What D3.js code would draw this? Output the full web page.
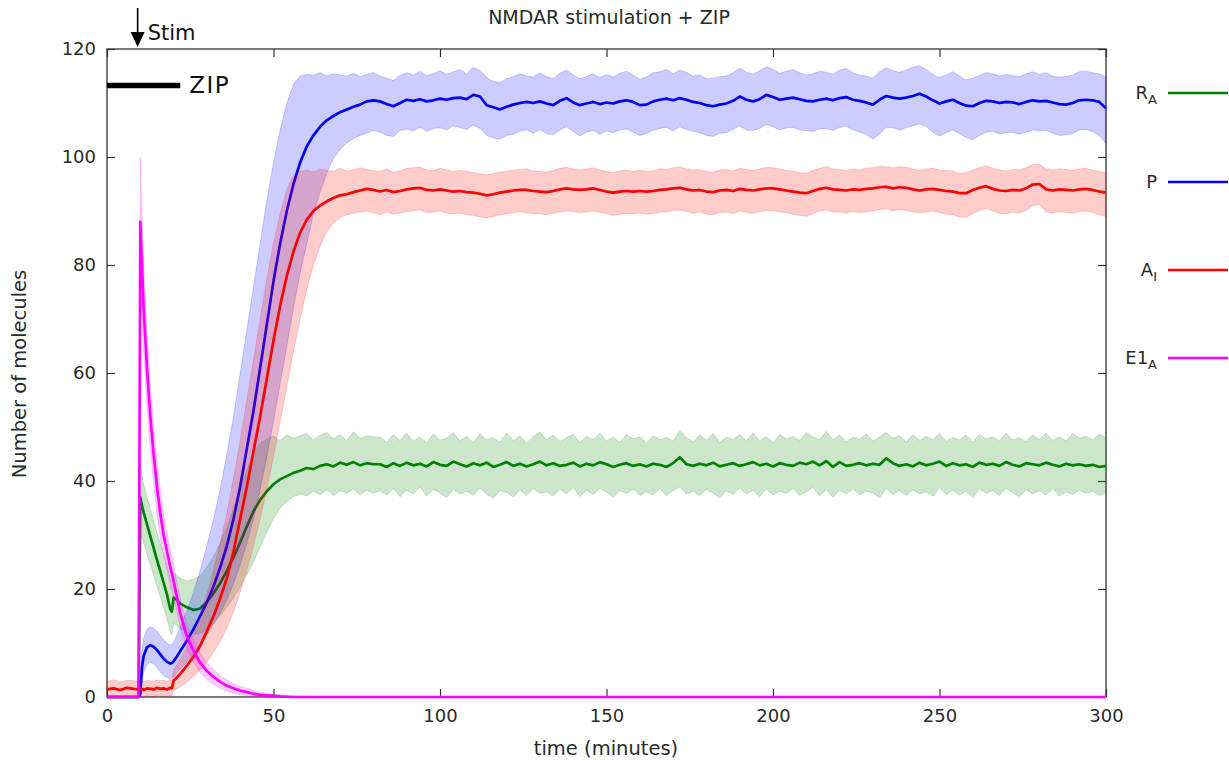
<!DOCTYPE html>
<html><head><meta charset="utf-8">
<script src="https://cdn.jsdelivr.net/npm/d3@7"></script>
<style>
html,body{margin:0;padding:0;background:#fff;}
svg{display:block;font-family:"DejaVu Sans",sans-serif;}
</style></head><body>
<svg id="chart" width="1229" height="761"></svg>
<script>
// ---------------- DATA ----------------
const time = [
0,2,4,6,8,9.5,10,10.5,11,12,
13,14,15,16,17,18,19,19.5,20,21,
22,24,26,28,30,32,34,36,38,40,
42,44,46,48,50,52,54,56,58,60,
62,64,66,68,70,72,74,76,78,80,
82,84,86,88,90,92,94,96,98,100,
102,104,106,108,110,112,114,116,118,120,
122,124,126,128,130,132,134,136,138,140,
142,144,146,148,150,152,154,156,158,160,
162,164,166,168,170,172,174,176,178,180,
182,184,186,188,190,192,194,196,198,200,
202,204,206,208,210,212,214,216,218,220,
222,224,226,228,230,232,234,236,238,240,
242,244,246,248,250,252,254,256,258,260,
262,264,266,268,270,272,274,276,278,280,
282,284,286,288,290,292,294,296,298,300];

// R_A (green)
const raMean = [
0,0,0,0,0,0,37,35.5,34.2,32,
29.8,27.6,25.4,23.3,21.2,19,16.3,15.8,18.4,18.0,
17.3,16.6,16.1,16.4,17.6,19.2,21.1,23.4,25.9,28.6,
31.6,34.4,36.5,38.1,39.4,40.3,40.9,41.5,41.9,42.4,
42.2,42.8,43.1,42.7,43.4,43.0,43.5,42.9,43.3,43.1,
43.1,42.6,43.3,42.8,43.4,42.9,43.2,42.7,43.5,43.0,
42.8,43.6,43.1,42.7,43.3,42.9,43.4,42.6,43.0,43.5,
42.8,43.2,42.7,43.1,43.6,42.9,43.3,42.8,43.0,43.4,
42.7,43.2,42.9,43.5,43.1,42.6,43.0,43.3,42.8,43.1,
42.7,43.2,43.0,42.6,43.3,44.4,43.1,42.8,43.2,42.9,
43.4,42.7,43.0,43.3,42.8,43.1,43.5,42.9,43.2,42.7,
43.3,43.0,42.8,43.4,43.1,43.6,42.9,43.7,42.6,43.5,
42.8,43.0,43.3,42.9,43.2,43.0,44.2,43.3,42.8,43.1,
42.7,43.4,42.9,43.2,43.6,42.8,43.3,42.9,43.1,42.6,
43.4,43.0,43.2,42.8,43.5,43.0,42.7,43.3,43.1,42.9,
43.4,43.0,42.7,43.2,42.9,43.1,42.8,43.0,42.6,42.8];
const raHigh = [
0,0,0,0,0,0,44,41,39.5,37,
35,32.5,30.5,28.5,26.5,24.5,22,21.5,23,22.5,
22,21.5,21.8,22.5,24,26,28.5,31.5,35,38.5,
42,45,47,47.8,48.3,47.5,48.6,47.9,48.4,48.8,
47.6,48.5,49.0,47.8,48.6,47.5,49.1,47.9,48.4,48.2,
48.1,47.2,48.6,47.5,48.9,47.3,48.2,47.0,48.7,47.6,
47.9,49.0,47.4,48.3,47.1,48.8,47.6,48.0,47.2,48.9,
47.5,48.4,47.0,48.2,49.1,47.6,48.5,47.3,48.0,48.7,
47.1,48.3,47.7,48.9,47.4,48.1,47.2,48.6,47.8,48.2,
47.0,48.4,47.6,48.1,47.4,49.3,48.0,47.3,48.5,47.6,
48.8,47.2,48.1,47.7,48.6,47.4,48.9,47.5,48.2,47.1,
48.6,47.8,48.3,47.5,49.0,48.2,47.7,49.2,47.6,48.5,
47.3,48.1,47.8,48.7,47.4,48.2,49.0,47.9,48.4,47.2,
48.6,47.5,48.3,47.7,48.8,47.3,48.1,47.6,48.5,47.2,
48.7,47.8,48.2,47.4,48.9,47.6,48.0,47.3,48.6,47.7,
48.9,47.5,48.2,47.4,48.8,47.9,48.3,47.6,48.7,48.0];
const raLow = [
0,0,0,0,0,0,30,29.5,28.5,26.5,
24.5,22.5,20.5,18.5,16.5,14.5,12,11.5,13.8,13.2,
12.6,12,11.6,11.8,12.5,13.6,15,16.6,18.4,20.4,
22.6,25,27.8,30.5,33,35,36.2,37.1,37.6,37.2,
38.1,37.5,38.4,37.3,38.2,37.8,38.5,37.4,38.3,37.7,
38.2,37.4,38.6,37.1,38.3,37.6,38.9,37.2,38.4,37.8,
36.9,38.5,37.6,38.1,37.3,38.7,37.5,36.8,38.2,37.9,
37.0,38.4,37.3,38.6,37.7,38.0,37.2,38.5,37.6,38.8,
37.1,38.3,37.5,38.6,37.9,37.0,38.2,37.7,38.5,37.3,
38.0,37.4,38.6,37.2,38.3,38.9,37.6,38.1,37.3,38.4,
37.8,36.9,38.2,37.5,38.7,37.6,38.3,37.1,38.5,37.4,
38.1,37.7,38.6,37.3,38.0,38.8,37.2,38.4,37.0,38.3,
37.6,38.5,37.4,38.1,37.8,36.9,38.6,37.5,38.2,37.3,
38.4,37.6,38.0,37.2,38.7,37.5,38.3,37.4,38.1,37.0,
38.5,37.7,38.2,37.3,38.6,37.8,37.1,38.4,37.6,38.2,
37.4,38.5,37.2,38.0,37.5,38.3,37.7,38.1,37.3,37.9];

// P (blue)
const pMean = [
0,0,0,0,0,0,0.5,5.5,7.6,9.2,
9.6,9.3,8.7,7.9,7.1,6.5,6.2,6.3,6.6,7.5,
8.5,10.4,12.6,15,17.5,20.5,24,28,33,39,
46,53,61,69,77,84,90,95,99,102,
104,105.6,106.8,107.6,108.3,108.8,109.3,109.7,110.3,110.5,
110.3,109.8,109.4,110.0,110.6,110.4,110.7,110.3,110.5,110.8,
110.6,110.9,111.0,110.7,111.5,111.2,109.6,109.2,108.8,109.3,
109.7,110.0,110.2,110.0,110.3,109.9,109.6,110.4,110.9,110.1,
109.6,109.9,110.2,109.8,110.1,109.9,110.3,110.5,110.2,109.6,
109.7,110.3,110.6,110.8,110.5,110.9,110.6,110.2,110.0,109.6,
109.4,109.7,109.9,110.4,111.2,110.6,110.3,110.7,111.5,111.1,
110.6,110.8,111.0,110.7,110.4,110.3,110.6,110.8,110.5,110.9,
111.1,110.6,110.4,110.1,109.7,110.6,111.3,111.0,110.8,111.0,
111.3,111.7,111.2,110.5,109.9,110.3,110.6,110.0,109.5,109.4,
110.0,110.4,110.3,110.0,110.2,110.1,109.8,110.2,110.5,110.3,
110.4,110.1,109.8,109.7,110.0,110.5,110.6,110.5,110.2,109.0];
const pHigh = [
0,0,0,0,0,0,3,9,11,12.6,
13,12.8,12.2,11.4,10.6,10,9.6,9.7,10.2,11.5,
13,16,19.5,23.5,28,33,38.5,45,52,60,
68,76,84,92,99,105,110,113.5,115,115.3,
115.2,115.6,115.0,115.4,115.2,115.0,115.5,114.9,115.3,115.6,
115.0,114.6,114.2,115.1,115.6,115.2,115.9,115.1,115.4,116.0,
115.3,115.8,116.2,115.4,116.6,116.0,114.7,114.0,113.8,114.5,
114.9,115.4,115.0,114.8,115.6,114.9,114.5,115.5,116.1,115.2,
114.5,114.9,115.4,114.7,115.3,114.8,115.5,115.9,115.2,114.4,
114.8,115.6,115.8,116.2,115.4,116.1,115.7,115.0,115.2,114.5,
114.6,114.9,115.0,115.6,116.5,115.7,115.3,116.0,116.7,116.3,
115.5,115.9,116.2,115.6,115.2,115.4,115.9,115.7,115.3,116.1,
116.4,115.6,115.2,115.0,114.6,115.8,116.5,116.0,115.7,116.1,
116.6,116.9,116.2,115.3,114.7,115.2,115.8,115.0,114.3,114.6,
115.1,115.6,115.4,115.0,115.3,115.1,114.9,115.4,115.8,115.3,
115.6,115.0,114.8,114.9,115.2,115.8,115.9,115.6,115.4,114.8];
const pLow = [
0,0,0,0,0,0,0,3,4.5,6,
6.4,6.1,5.4,4.6,4.0,3.6,3.4,3.5,3.8,4.5,
5.2,6.5,8,9.8,11.5,13.5,15.5,18,21,24.5,
28.5,33,38.5,44.5,51,58,65,72,78.5,84,
89.5,93.5,97,99.7,101.4,102.6,103.4,104.0,104.4,104.9,
104.6,104.0,103.8,104.9,105.2,104.8,105.5,104.7,105.3,105.4,
105.0,105.8,105.4,105.1,105.9,105.3,104.0,103.5,103.3,104.0,
104.2,104.8,105.0,104.4,105.1,104.3,104.1,105.0,105.6,104.7,
103.9,104.6,104.9,104.2,104.8,104.5,105.0,105.2,104.6,104.0,
104.3,104.9,105.3,105.5,104.8,105.6,105.1,104.7,104.5,104.0,
103.8,104.4,104.5,105.1,105.8,105.0,104.9,105.3,106.0,105.6,
105.0,105.4,105.5,105.0,104.9,104.7,105.2,105.3,104.9,105.5,
105.7,105.0,104.6,104.2,103.3,104.2,105.5,105.4,105.0,105.4,
105.8,106.1,105.6,104.6,103.9,104.5,105.0,104.3,103.6,103.2,
104.0,104.6,104.7,104.3,104.5,104.6,104.2,104.6,105.0,104.8,
104.9,104.4,104.0,104.1,104.3,105.0,105.1,104.7,104.0,102.5];

// A_I (red)
const aiMean = [
1.4,1.6,1.3,1.7,1.5,1.4,1.6,1.5,1.3,1.6,
1.5,1.4,1.7,1.5,1.6,1.4,1.7,1.6,3.0,3.6,
4.3,5.8,7.5,9.5,12.2,15,18.3,22,27,33,
39,45.5,52,59,66,72.5,78,82.5,86,88.4,
90,91,91.8,92.4,92.9,93.1,93.5,93.8,94.1,93.9,
93.6,93.9,93.5,93.7,94.0,94.2,94.3,93.9,93.8,94.0,
93.8,93.6,93.7,93.5,93.4,93.2,92.9,93.1,93.4,93.6,
93.8,93.9,93.9,93.7,93.6,93.5,93.7,94.0,94.2,94.0,
93.9,94.0,94.2,93.9,93.6,93.4,93.6,93.7,93.6,93.7,
93.6,93.7,93.9,94.0,94.2,94.3,94.0,93.8,93.9,93.6,
93.5,93.8,93.9,93.7,94.1,93.9,93.8,94.0,94.2,94.2,
94.0,93.8,93.6,93.4,93.3,93.7,94.1,94.3,94.0,93.9,
93.8,94.0,93.9,94.1,94.2,94.4,94.5,94.2,94.4,94.3,
94.0,93.8,94.0,94.1,93.9,93.7,93.6,93.3,93.3,93.9,
94.3,94.6,94.1,93.8,93.7,93.9,93.8,94.2,94.9,95.0,
94.0,93.8,94.0,93.9,93.8,94.0,94.1,93.9,93.6,93.4];
const aiHigh = [
2.9,3.2,2.8,3.1,3.0,2.9,3.1,3.0,2.8,3.1,
3.0,2.9,3.2,3.0,3.1,2.9,3.2,3.1,5.0,6.0,
7.0,9.2,11.8,15,19,23.5,28.5,34,40.5,47.5,
55,62.5,70,77.5,84,89.5,94,96.5,97.3,97.6,
97.2,97.8,97.5,97.3,97.9,97.4,97.6,98.0,97.7,97.5,
97.3,97.8,97.2,97.4,97.9,98.0,98.1,97.6,97.5,97.9,
97.6,97.3,97.5,97.4,97.1,96.9,96.7,96.9,97.2,97.3,
97.6,97.7,97.8,97.4,97.3,97.2,97.5,97.9,98.1,97.8,
97.6,97.8,98.0,97.6,97.3,97.1,97.4,97.6,97.3,97.5,
97.3,97.5,97.8,97.7,98.0,98.2,97.8,97.6,97.7,97.3,
97.2,97.6,97.7,97.4,97.9,97.7,97.5,97.8,98.1,98.0,
97.8,97.5,97.4,97.1,97.0,97.5,97.9,98.2,97.8,97.7,
97.5,97.8,97.6,97.9,98.0,98.3,98.2,98.0,98.2,98.1,
97.8,97.5,97.8,97.9,97.6,97.5,97.4,97.0,97.1,97.6,
98.0,98.4,97.9,97.6,97.4,97.7,97.6,98.0,98.6,98.7,
97.8,97.6,97.8,97.7,97.5,97.8,97.9,97.6,97.3,97.1];
const aiLow = [
0,0.2,0,0.3,0.1,0,0.2,0.1,0,0.2,
0.1,0,0.3,0.1,0.2,0,0.3,0.2,1.2,1.5,
1.9,2.8,3.8,5,6.5,8.3,10.3,12.8,15.8,19.5,
23.5,28,33,38.5,44.5,51,57.5,64,70,75.5,
80,83.5,86.2,87.8,88.8,89.3,89.6,89.8,90.0,89.7,
89.3,89.8,89.4,89.6,89.9,90.1,90.2,89.7,89.8,90.0,
89.6,89.5,89.6,89.3,89.2,88.9,88.7,89.0,89.3,89.5,
89.7,89.8,89.7,89.5,89.5,89.3,89.6,89.8,90.0,89.9,
89.7,89.8,90.0,89.7,89.5,89.2,89.4,89.5,89.5,89.6,
89.4,89.5,89.8,89.8,90.1,90.2,89.9,89.6,89.8,89.4,
89.3,89.7,89.8,89.5,90.0,89.7,89.6,89.9,90.1,90.1,
89.8,89.7,89.4,89.2,89.0,89.5,90.0,90.2,89.8,89.8,
89.6,89.9,89.7,89.9,90.0,90.3,90.4,90.0,90.3,90.1,
89.8,89.7,89.8,90.0,89.7,89.4,89.3,88.9,88.8,89.5,
90.1,90.5,90.0,89.6,89.5,89.8,89.6,90.1,91.0,91.2,
89.8,89.6,89.9,89.7,89.6,89.9,90.0,89.7,89.3,89.0];

// E1_A (magenta)
const e1Mean = [
0,0,0,0,0,0,88,80,72,61,
52,45,39,34,30,27,24,22.8,21.5,18.5,
15.5,11.2,8.5,6.3,4.8,3.7,2.8,2.1,1.6,1.2,
0.9,0.6,0.4,0.3,0.2,0.1,0.05,0,0,0,
0,0,0,0,0,0,0,0,0,0,
0,0,0,0,0,0,0,0,0,0,
0,0,0,0,0,0,0,0,0,0,
0,0,0,0,0,0,0,0,0,0,
0,0,0,0,0,0,0,0,0,0,
0,0,0,0,0,0,0,0,0,0,
0,0,0,0,0,0,0,0,0,0,
0,0,0,0,0,0,0,0,0,0,
0,0,0,0,0,0,0,0,0,0,
0,0,0,0,0,0,0,0,0,0,
0,0,0,0,0,0,0,0,0,0,
0,0,0,0,0,0,0,0,0,0];
const e1High = [
0,0,0,0,0,0,100,90,80,68,
58,50.5,44,38.5,34,30.5,27.3,26,24.6,21.4,
18.2,13.6,10.6,8.1,6.4,5.1,4.0,3.2,2.5,2.0,
1.6,1.2,0.9,0.7,0.5,0.4,0.3,0.2,0.15,0.1,
0,0,0,0,0,0,0,0,0,0,
0,0,0,0,0,0,0,0,0,0,
0,0,0,0,0,0,0,0,0,0,
0,0,0,0,0,0,0,0,0,0,
0,0,0,0,0,0,0,0,0,0,
0,0,0,0,0,0,0,0,0,0,
0,0,0,0,0,0,0,0,0,0,
0,0,0,0,0,0,0,0,0,0,
0,0,0,0,0,0,0,0,0,0,
0,0,0,0,0,0,0,0,0,0,
0,0,0,0,0,0,0,0,0,0,
0,0,0,0,0,0,0,0,0,0];
const e1Low = [
0,0,0,0,0,0,78,70,64,54,
46,39.5,34,29.5,26,23.5,20.7,19.6,18.4,15.6,
12.8,8.8,6.4,4.5,3.2,2.3,1.6,1.0,0.7,0.4,
0.2,0.1,0,0,0,0,0,0,0,0,
0,0,0,0,0,0,0,0,0,0,
0,0,0,0,0,0,0,0,0,0,
0,0,0,0,0,0,0,0,0,0,
0,0,0,0,0,0,0,0,0,0,
0,0,0,0,0,0,0,0,0,0,
0,0,0,0,0,0,0,0,0,0,
0,0,0,0,0,0,0,0,0,0,
0,0,0,0,0,0,0,0,0,0,
0,0,0,0,0,0,0,0,0,0,
0,0,0,0,0,0,0,0,0,0,
0,0,0,0,0,0,0,0,0,0,
0,0,0,0,0,0,0,0,0,0];

const xTicks = [0, 50, 100, 150, 200, 250, 300];
const yTicks = [0, 20, 40, 60, 80, 100, 120];
const legendNames = ["R", "P", "A", "E1"];
const legendSubs = ["A", "", "I", "A"];
const seriesColors = ["#008000", "#0000ff", "#ff0000", "#ff00ff"];
const stimTime = 9.2;
const zipRange = [0, 22];
const titleText = "NMDAR stimulation + ZIP";
const xLabel = "time (minutes)";
const yLabel = "Number of molecules";

// ---------------- CHART ----------------
const svg = d3.select("#chart");
const L = 107, R = 1106, T = 49, B = 697;
const x = d3.scaleLinear().domain([0, 300]).range([L, R]);
const y = d3.scaleLinear().domain([0, 120]).range([B, T]);
const ink = "#2a2a2a";

// frame
svg.append("rect").attr("x", L).attr("y", T).attr("width", R - L).attr("height", B - T)
  .attr("fill", "none").attr("stroke", "#333").attr("stroke-width", 1.3);

function styleAxis(g, labels) {
  g.select(".domain").remove();
  g.selectAll(".tick line").attr("stroke", "#333").attr("stroke-width", 1.2);
  g.selectAll(".tick text").attr("fill", ink).style("font-size", "18px");
  if (!labels) g.selectAll(".tick text").remove();
}
svg.append("g").attr("transform", `translate(0,${B})`)
  .call(d3.axisBottom(x).tickValues(xTicks).tickFormat(d3.format("d")).tickSizeInner(-8).tickSizeOuter(0).tickPadding(12))
  .call(g => styleAxis(g, true));
svg.append("g").attr("transform", `translate(0,${T})`)
  .call(d3.axisTop(x).tickValues(xTicks).tickSizeInner(-8).tickSizeOuter(0))
  .call(g => styleAxis(g, false));
svg.append("g").attr("transform", `translate(${L},0)`)
  .call(d3.axisLeft(y).tickValues(yTicks).tickFormat(d3.format("d")).tickSizeInner(-8).tickSizeOuter(0).tickPadding(11))
  .call(g => styleAxis(g, true));
svg.append("g").attr("transform", `translate(${R},0)`)
  .call(d3.axisRight(y).tickValues(yTicks).tickSizeInner(-8).tickSizeOuter(0))
  .call(g => styleAxis(g, false));
svg.selectAll(".tick text").attr("font-family", "DejaVu Sans");

// series
const series = [
  {mean: raMean, lo: raLow, hi: raHigh},
  {mean: pMean, lo: pLow, hi: pHigh},
  {mean: aiMean, lo: aiLow, hi: aiHigh},
  {mean: e1Mean, lo: e1Low, hi: e1High}
];
const idx = d3.range(time.length);
series.forEach((s, k) => {
  const c = seriesColors[k];
  const area = d3.area().x(i => x(time[i])).y0(i => y(s.lo[i])).y1(i => y(s.hi[i]));
  svg.append("path").attr("d", area(idx))
    .attr("fill", c).attr("fill-opacity", 0.2)
    .attr("stroke", c).attr("stroke-opacity", 0.22).attr("stroke-width", 0.8);
  const line = d3.line().x(i => x(time[i])).y(i => y(s.mean[i]));
  svg.append("path").attr("d", line(idx))
    .attr("fill", "none").attr("stroke", c).attr("stroke-width", 2.7)
    .attr("stroke-linejoin", "round");
});

// legend
const legY = [93, 182, 270, 358];
legendNames.forEach((n, k) => {
  const t = svg.append("text").attr("x", 1157).attr("y", legY[k] + 6)
    .attr("text-anchor", "end").attr("fill", ink).style("font-size", "18px");
  t.append("tspan").text(n);
  if (legendSubs[k]) t.append("tspan").attr("dy", 5).style("font-size", "13px").text(legendSubs[k]);
  svg.append("line").attr("x1", 1168).attr("x2", 1228).attr("y1", legY[k]).attr("y2", legY[k])
    .attr("stroke", seriesColors[k]).attr("stroke-width", 2.6);
});

// title & axis labels
svg.append("text").attr("x", 609).attr("y", 24).attr("text-anchor", "middle")
  .attr("fill", ink).style("font-size", "19px").text(titleText);
svg.append("text").attr("x", 606).attr("y", 755).attr("text-anchor", "middle")
  .attr("fill", ink).style("font-size", "19.5px").text(xLabel);
svg.append("text").attr("transform", "translate(26,374) rotate(-90)").attr("text-anchor", "middle")
  .attr("fill", ink).style("font-size", "19.5px").text(yLabel);

// Stim arrow
const sx = x(stimTime);
svg.append("line").attr("x1", sx).attr("x2", sx).attr("y1", 8).attr("y2", 36)
  .attr("stroke", "#000").attr("stroke-width", 1.6);
svg.append("path").attr("d", `M${sx - 7},${32} L${sx + 7},${32} L${sx},${47} Z`).attr("fill", "#000");
svg.append("text").attr("x", sx + 10).attr("y", 40).attr("fill", "#111")
  .style("font-size", "21px").text("Stim");

// ZIP bar
svg.append("line").attr("x1", x(zipRange[0])).attr("x2", x(zipRange[1])).attr("y1", 85.5).attr("y2", 85.5)
  .attr("stroke", "#000").attr("stroke-width", 5.5);
svg.append("text").attr("x", x(zipRange[1]) + 9).attr("y", 93).attr("fill", "#111")
  .style("font-size", "23px").style("letter-spacing", "1.5px").text("ZIP");
</script>
</body></html>
